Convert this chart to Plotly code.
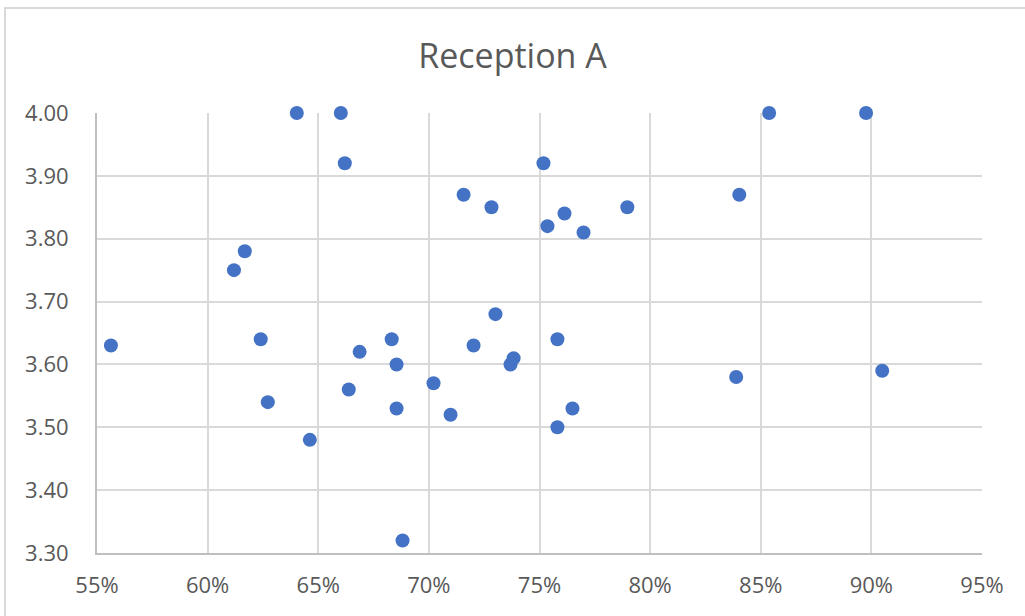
import plotly.graph_objects as go

# Reception A: share (x, fraction) vs. mean score (y)
share = [0.5563, 0.6119, 0.6168, 0.6240, 0.6272, 0.6403, 0.6462, 0.6602, 0.6620,
         0.6638, 0.6687, 0.6832, 0.6854, 0.6854, 0.6881, 0.7021, 0.7098, 0.7157,
         0.7202, 0.7283, 0.7301, 0.7369, 0.7383, 0.7518, 0.7536, 0.7581, 0.7581,
         0.7613, 0.7649, 0.7699, 0.7897, 0.8389, 0.8403, 0.8538, 0.8976, 0.9049]
score = [3.63, 3.75, 3.78, 3.64, 3.54, 4.00, 3.48, 4.00, 3.92,
         3.56, 3.62, 3.64, 3.60, 3.53, 3.32, 3.57, 3.52, 3.87,
         3.63, 3.85, 3.68, 3.60, 3.61, 3.92, 3.82, 3.64, 3.50,
         3.84, 3.53, 3.81, 3.85, 3.58, 3.87, 4.00, 4.00, 3.59]

x_ticks = [0.55, 0.60, 0.65, 0.70, 0.75, 0.80, 0.85, 0.90, 0.95]
y_ticks = [3.30, 3.40, 3.50, 3.60, 3.70, 3.80, 3.90, 4.00]

W, H = 1025, 616
L, R, T, B = 97, 43, 113, 63
pw, ph = W - L - R, H - T - B

fig = go.Figure(go.Scatter(
    x=share, y=score, mode="markers",
    marker=dict(size=14, color="#4472C4", line=dict(width=0)),
    cliponaxis=False,
))

font = "Segoe UI, Open Sans, Noto Sans, sans-serif"
fig.update_layout(
    width=W, height=H,
    margin=dict(l=L, r=R, t=T, b=B),
    paper_bgcolor="white", plot_bgcolor="white",
    showlegend=False,
    title=dict(text="Reception A", x=0.5, xanchor="center",
               y=1 - 56 / H, yanchor="middle",
               font=dict(family=font, size=34, color="#595959")),
    font=dict(family=font, size=22, color="#595959"),
)
fig.update_xaxes(
    range=[0.55, 0.95], tickvals=x_ticks,
    ticktext=[f"{round(v * 100)}%" for v in x_ticks],
    showgrid=True, gridcolor="#d9d9d9", gridwidth=1.5,
    zeroline=False, showline=True, linecolor="#bfbfbf", linewidth=2,
    ticks="", ticklabelstandoff=12,
)
fig.update_yaxes(
    range=[3.30, 4.00], tickvals=y_ticks,
    ticktext=[f"{v:.2f}" for v in y_ticks],
    showgrid=True, gridcolor="#d9d9d9", gridwidth=1.5,
    zeroline=False, showline=True, linecolor="#bfbfbf", linewidth=2,
    ticks="", ticklabelstandoff=22,
)
# Thin frame around the chart (left and top edges fall inside the page)
fig.add_shape(type="rect", xref="paper", yref="paper",
              x0=(5 - L) / pw, x1=(W + 5 - L) / pw,
              y0=-(H + 5 - T - ph) / ph, y1=1 + (T - 8) / ph,
              line=dict(color="#d9d9d9", width=2), layer="below")

fig.write_html("out.html")
